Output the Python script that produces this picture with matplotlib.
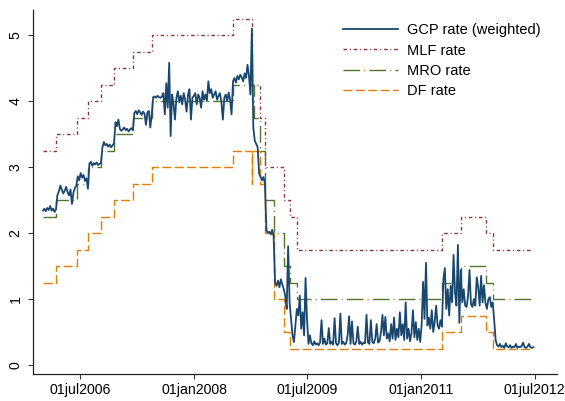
import numpy as np
import pandas as pd
import matplotlib
matplotlib.use('Agg')
import matplotlib.pyplot as plt

plt.rcParams['font.family'] = ['Liberation Sans', 'DejaVu Sans']

# ECB policy rates: change dates and levels
mro_dates = ['2006-01-02', '2006-03-08', '2006-06-15', '2006-08-09', '2006-10-11',
             '2006-12-13', '2007-03-14', '2007-06-13', '2008-07-09', '2008-10-15',
             '2008-11-12', '2008-12-10', '2009-01-21', '2009-03-11', '2009-04-08',
             '2009-05-13', '2011-04-13', '2011-07-13', '2011-11-09', '2011-12-14']
mro = [2.25, 2.5, 2.75, 3.0, 3.25, 3.5, 3.75, 4.0, 4.25, 3.75,
       3.25, 2.5, 2.0, 1.5, 1.25, 1.0, 1.25, 1.5, 1.25, 1.0]

corr_dates = ['2006-01-02', '2006-03-08', '2006-06-15', '2006-08-09', '2006-10-11',
              '2006-12-13', '2007-03-14', '2007-06-13', '2008-07-09', '2008-10-08',
              '2008-10-09', '2008-11-12', '2008-12-10', '2009-01-21', '2009-03-11',
              '2009-04-08', '2009-05-13', '2011-04-13', '2011-07-13', '2011-11-09',
              '2011-12-14']
df_rate = [1.25, 1.5, 1.75, 2.0, 2.25, 2.5, 2.75, 3.0, 3.25, 2.75,
           3.25, 2.75, 2.0, 1.0, 0.5, 0.25, 0.25, 0.5, 0.75, 0.5, 0.25]
mlf = [3.25, 3.5, 3.75, 4.0, 4.25, 4.5, 4.75, 5.0, 5.25, 4.75,
       4.25, 3.75, 3.0, 3.0, 2.5, 2.25, 1.75, 2.0, 2.25, 2.0, 1.75]
rates_end = '2012-06-22'

# GCP rate (weighted), weekly readings from 2006-01-02
gcp_start = '2006-01-02'
gcp_2006 = [2.34, 2.37, 2.33, 2.38, 2.35, 2.41, 2.34, 2.37, 2.32, 2.36,
            2.58, 2.63, 2.72, 2.66, 2.60, 2.64, 2.70, 2.62, 2.57, 2.66, 2.44, 2.61, 2.68, 2.72,
            2.86, 2.80, 2.91, 2.84, 2.88, 2.79, 2.83, 2.67,
            3.05, 3.08, 3.02, 3.06, 3.04, 3.07, 3.03, 3.05, 3.06,
            3.30, 3.38, 3.33, 3.35, 3.31, 3.34, 3.30, 3.33, 3.36,
            3.68, 3.62]
gcp_2007 = [3.72, 3.58, 3.55, 3.57, 3.60, 3.56, 3.58, 3.54, 3.57, 3.59, 3.56,
            3.82, 3.85, 3.80, 3.86, 3.83, 3.79, 3.84, 3.81, 3.64, 3.83, 3.85, 3.60, 3.80,
            4.06, 4.07, 4.05, 4.08, 4.06, 4.05, 4.07, 4.12, 3.80, 4.27, 3.90, 4.58, 3.47, 4.10,
            3.95, 3.72, 4.05, 4.15, 3.98, 4.08, 3.95, 4.12, 4.02, 3.84, 4.10, 4.18, 3.72, 4.05]
gcp_2008 = [4.08, 4.12, 3.95, 4.10, 4.05, 3.90, 4.15, 4.02, 4.10, 4.00, 4.30, 4.12, 4.18,
            4.05, 4.10, 4.15, 4.02, 4.08, 4.12, 3.98, 3.72, 4.05, 4.10, 4.00, 4.13, 4.02, 3.80,
            4.30, 4.35, 4.28, 4.38, 4.33, 4.40, 4.36, 4.30, 4.42, 4.35, 4.55, 4.38, 4.10,
            5.10, 3.60, 3.40, 3.35, 3.30, 2.90, 2.85, 2.80, 2.85, 2.75, 2.05, 2.00]
gcp_2009 = [2.02, 1.98, 2.05, 1.95, 1.25, 1.20, 1.28, 1.18, 1.30, 1.22, 1.15, 1.05, 0.85, 1.80,
            0.95, 0.70, 0.45, 0.35, 0.60, 0.85, 0.75, 1.05, 0.55, 0.80, 0.45, 1.32, 0.70, 0.32,
            0.45, 0.33, 0.30, 0.36, 0.31, 0.33, 0.30, 0.34, 0.68, 0.32, 0.40, 0.31,
            0.33, 0.56, 0.32, 0.35, 0.31, 0.71, 0.33, 0.30, 0.34, 0.78, 0.32, 0.35]
gcp_2010 = [0.31, 0.33, 0.45, 0.74, 0.32, 0.66, 0.33, 0.31, 0.36, 0.58,
            0.32, 0.35, 0.31, 0.34, 0.33, 0.76, 0.34, 0.32, 0.68, 0.35,
            0.33, 0.40, 0.62, 0.34, 0.36, 0.50, 0.76, 0.45, 0.73, 0.40,
            0.48, 0.36, 0.62, 0.40, 0.72, 0.38, 0.55, 0.42, 0.80, 0.45,
            0.62, 0.38, 0.95, 0.40, 0.55, 0.36, 0.48, 0.83, 0.42, 0.65,
            0.38, 0.55]
gcp_2011 = [0.35, 0.60, 1.26, 0.70, 1.55, 0.60, 0.72, 0.55, 0.83, 0.50, 0.65, 0.90, 0.60, 0.55,
            0.68, 0.58,
            1.30, 1.47, 0.85, 1.15, 0.75, 1.20, 0.95, 1.67, 1.10, 0.90,
            1.82, 0.64, 1.44, 0.95, 1.15, 0.90, 0.88, 1.05, 1.44, 0.92,
            0.88, 1.00, 0.90, 1.33, 1.18, 0.90, 1.35, 0.95, 1.21, 0.94,
            0.85, 1.00, 1.03, 0.88, 0.95, 0.68]
gcp_2012 = [0.38, 0.30, 0.28, 0.32, 0.27, 0.29, 0.26, 0.33, 0.28, 0.27,
            0.30, 0.26, 0.28, 0.27, 0.32, 0.26, 0.28, 0.27, 0.29, 0.34,
            0.27, 0.26, 0.28, 0.32, 0.27, 0.26, 0.27]

gcp = gcp_2006 + gcp_2007 + gcp_2008 + gcp_2009 + gcp_2010 + gcp_2011 + gcp_2012
gcp_dates = pd.date_range(gcp_start, periods=len(gcp), freq='7D')


def steps(dates, values):
    d = pd.to_datetime(list(dates) + [rates_end])
    v = list(values) + [values[-1]]
    return d, v


navy = '#1a476f'
maroon = '#90353b'
green = '#55752f'
orange = '#e37e00'

fig = plt.figure(figsize=(5.65, 4.01), dpi=100)
ax = fig.add_axes([0.0584, 0.0673, 0.9274, 0.9077])

ax.plot(gcp_dates, gcp, color=navy, lw=1.3, label='GCP rate (weighted)', zorder=5)
d, v = steps(corr_dates, mlf)
ax.plot(d, v, drawstyle='steps-post', color=maroon, lw=1,
        dashes=(2.6, 1.9, 0.8, 2.0), label='MLF rate')
d, v = steps(mro_dates, mro)
ax.plot(d, v, drawstyle='steps-post', color=green, lw=1,
        dashes=(12, 3, 0.7, 3), label='MRO rate')
d, v = steps(corr_dates, df_rate)
ax.plot(d, v, drawstyle='steps-post', color=orange, lw=1,
        dashes=(6.5, 2.4), label='DF rate')

ax.set_xlim(pd.Timestamp('2005-11-15'), pd.Timestamp('2012-10-17'))
ax.set_ylim(-0.136, 5.38)

xt = pd.to_datetime(['2006-07-01', '2008-01-01', '2009-07-01', '2011-01-01', '2012-07-01'])
ax.set_xticks(xt)
ax.set_xticklabels([t.strftime('%d%b%Y').lower() for t in xt])
ax.set_yticks([0, 1, 2, 3, 4, 5])
ax.set_yticklabels(['0', '1', '2', '3', '4', '5'], rotation=90, va='center')

ax.tick_params(axis='both', labelsize=10.2, length=3.6, width=0.8, color='#333333')
ax.tick_params(axis='y', pad=4)
ax.tick_params(axis='x', pad=3)

for s in ['top', 'right']:
    ax.spines[s].set_visible(False)
for s in ['left', 'bottom']:
    ax.spines[s].set_linewidth(0.9)
    ax.spines[s].set_color('#222222')

leg = fig.legend(loc='upper left', bbox_to_anchor=(0.607, 0.942), frameon=False,
                 fontsize=10.5, handlelength=3.8, handletextpad=0.6,
                 labelspacing=0.43, borderpad=0, borderaxespad=0)

fig.savefig('out.png', dpi=100)
